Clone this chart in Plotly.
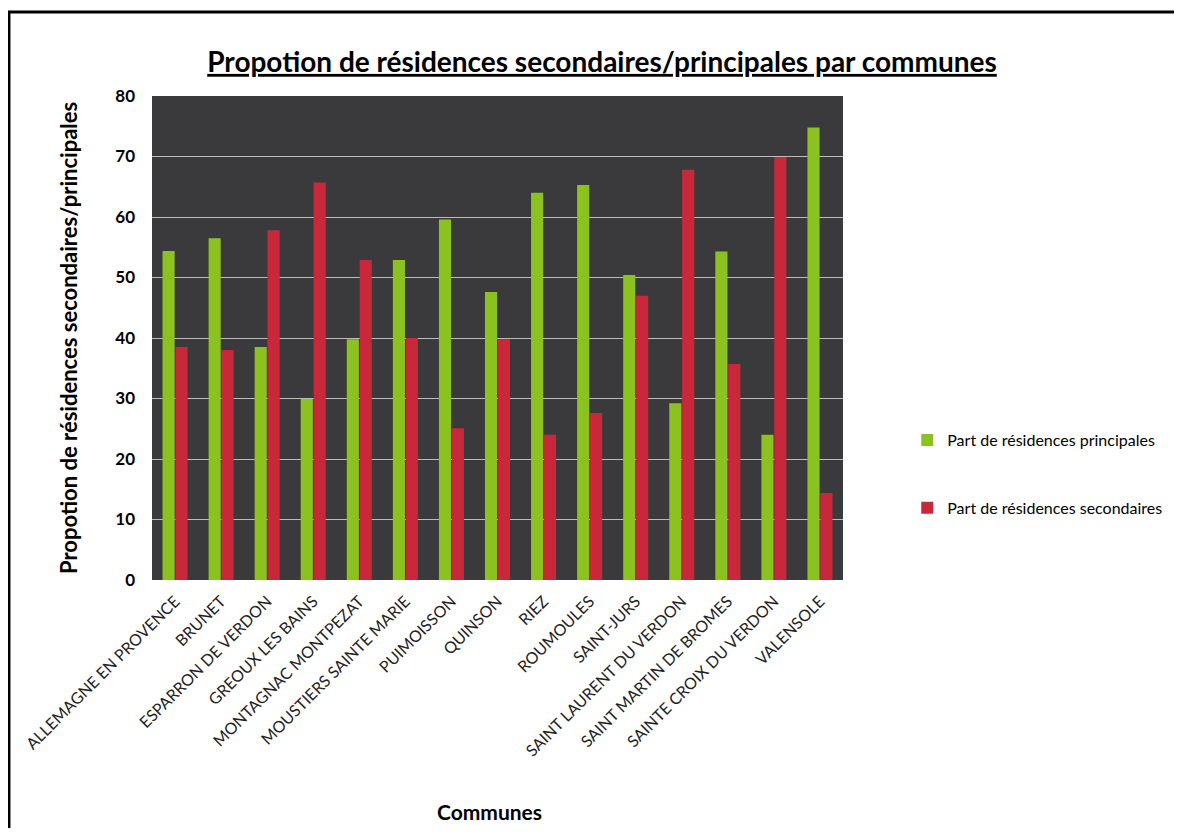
import plotly.graph_objects as go

communes = [
    "ALLEMAGNE EN PROVENCE", "BRUNET", "ESPARRON DE VERDON", "GREOUX LES BAINS",
    "MONTAGNAC MONTPEZAT", "MOUSTIERS SAINTE MARIE", "PUIMOISSON", "QUINSON",
    "RIEZ", "ROUMOULES", "SAINT-JURS", "SAINT LAURENT DU VERDON",
    "SAINT MARTIN DE BROMES", "SAINTE CROIX DU VERDON", "VALENSOLE",
]
principales = [54.4, 56.5, 38.5, 29.9, 39.8, 52.9, 59.6, 47.6, 64.0, 65.3, 50.4, 29.2, 54.3, 24.0, 74.8]
secondaires = [38.5, 38.0, 57.8, 65.7, 52.9, 40.0, 25.1, 39.8, 24.0, 27.6, 47.0, 67.8, 35.7, 69.9, 14.4]

y_ticks = [0, 10, 20, 30, 40, 50, 60, 70, 80]

FONT = "Lato"

fig = go.Figure()
fig.add_trace(go.Bar(
    x=communes, y=principales, name="Part de résidences principales",
    marker=dict(color="#8cc21f", line=dict(width=0)), legend="legend",
))
fig.add_trace(go.Bar(
    x=communes, y=secondaires, name="Part de résidences secondaires",
    marker=dict(color="#c9283b", line=dict(width=0)), legend="legend2",
))

fig.update_layout(
    width=1174, height=820,
    showlegend=True,
    paper_bgcolor="white",
    plot_bgcolor="#3a3a3c",
    barmode="group",
    bargap=0.44,
    bargroupgap=0.06,
    margin=dict(l=144, r=339, t=88, b=248),
    font=dict(family=FONT, color="#000000"),
    title=dict(
        text="<b><u>Propotion de résidences secondaires/principales par communes</u></b>",
        x=0.506, xanchor="center", y=0.934, yanchor="middle",
        font=dict(size=28, family=FONT, color="#000000"),
    ),
    xaxis=dict(
        tickangle=-45,
        tickfont=dict(size=16, family=FONT, color="#222222"),
        showgrid=False, showline=False, zeroline=False, ticklabelstandoff=8,
    ),
    yaxis=dict(
        range=[0, 80], tickvals=y_ticks, ticktext=[f"<b>{v}</b>" for v in y_ticks],
        tickfont=dict(size=17, family=FONT, color="#000000"),
        showgrid=True, gridcolor="#bcbcbc", gridwidth=1,
        zeroline=False, showline=False, ticks="", ticklabelstandoff=16,
    ),
    annotations=[
        dict(text="<b>Communes</b>", xref="paper", yref="paper", x=0.489, y=-0.479,
             xanchor="center", yanchor="middle", showarrow=False,
             font=dict(size=21, family=FONT, color="#000000")),
        dict(text="<b>Propotion de résidences secondaires/principales</b>",
             xref="paper", yref="paper", x=-0.1216, y=0.5, textangle=-90,
             xanchor="center", yanchor="middle", showarrow=False,
             font=dict(size=22, family=FONT, color="#000000")),
    ],
    legend=dict(x=1.093, xanchor="left", y=0.289, yanchor="middle",
                font=dict(size=16, family=FONT, color="#000000"),
                bgcolor="rgba(0,0,0,0)", itemwidth=30),
    legend2=dict(x=1.093, xanchor="left", y=0.149, yanchor="middle",
                 font=dict(size=16, family=FONT, color="#000000"),
                 bgcolor="rgba(0,0,0,0)", itemwidth=30),
    shapes=[
        dict(type="line", xref="paper", yref="paper", x0=-0.21, x1=1.5, y0=1.1736, y1=1.1736,
             line=dict(color="black", width=3)),
        dict(type="line", xref="paper", yref="paper", x0=-0.207, x1=-0.207, y0=1.1736, y1=-0.6,
             line=dict(color="black", width=3)),
    ],
)

fig.write_html("out.html")
